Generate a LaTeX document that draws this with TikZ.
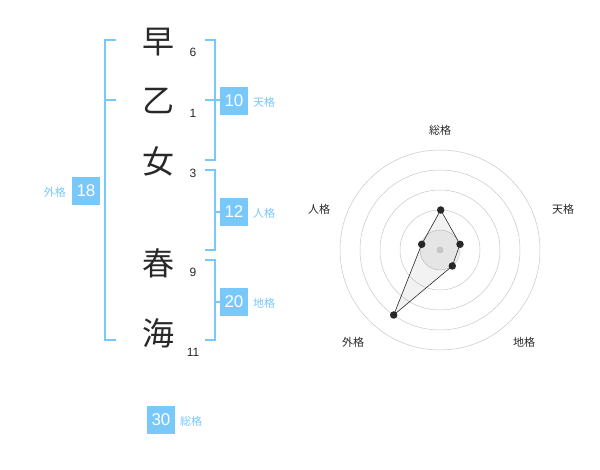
\documentclass[tikz,border=0pt]{standalone}
\usepackage{fontspec}
\setmainfont{Liberation Sans}
\newfontfamily\cjk{Noto Sans CJK JP}
\definecolor{blu}{RGB}{120,200,250}
\definecolor{ink}{RGB}{40,40,40}
\begin{document}
\begin{tikzpicture}[x=1pt,y=-1pt,
  kan/.style={font=\cjk\fontsize{32}{32}\selectfont,text=ink,inner sep=0},
  num/.style={font=\fontsize{12}{12}\selectfont,text=ink,inner sep=0},
  brk/.style={draw=blu,line width=1.5pt},
  box/.style={fill=blu,text=white,font=\fontsize{17}{17}\selectfont,minimum width=28pt,minimum height=28pt,inner sep=0},
  lab/.style={text=blu,font=\cjk\fontsize{11}{11}\selectfont,inner sep=0,anchor=west},
  rl/.style={text=ink,font=\cjk\fontsize{11}{11}\selectfont,inner sep=0},
  ring/.style={draw=black!22,line width=0.5pt},
  dot/.style={circle,fill=ink,inner sep=0,minimum size=7.5pt}]
\useasboundingbox (0,0) rectangle (600,470);
% kanji
\node[kan] (k1) at (158,42) {早};
\node[kan] (k2) at (158,101) {乙};
\node[kan] (k3) at (158,161) {女};
\node[kan] (k4) at (158,263) {春};
\node[kan] (k5) at (158,333) {海};
\node[num] (n1) at (193,52) {6};
\node[num] (n2) at (193,113) {1};
\node[num] (n3) at (193,173) {3};
\node[num] (n4) at (193,272) {9};
\node[num] (n5) at (193,352) {11};
% brackets
\draw[brk] (116,40) -- (105,40) -- (105,340) -- (116,340);
\draw[brk] (105,100) -- (116,100);
\draw[brk] (205,40) -- (215,40) -- (215,160) -- (205,160);
\draw[brk] (205,100) -- (220,100);
\draw[brk] (205,170) -- (215,170) -- (215,250) -- (205,250);
\draw[brk] (215,212) -- (220,212);
\draw[brk] (205,260) -- (215,260) -- (215,340) -- (205,340);
\draw[brk] (215,302) -- (220,302);
% boxes
\node[box] (b1) at (234,101) {10};
\node[lab] (l1) at (253,102) {天格};
\node[box] (b2) at (234,212) {12};
\node[lab] (l2) at (253,213) {人格};
\node[box] (b3) at (234,302) {20};
\node[lab] (l3) at (253,303) {地格};
\node[box] (b4) at (86,191) {18};
\node[lab,anchor=east] (l4) at (66,192) {外格};
\node[box] (b5) at (161,420) {30};
\node[lab] (l5) at (180,421) {総格};
% radar
\coordinate (c) at (440,250);
\fill[black!5] (c) circle (20);
\foreach \r in {20,40,60,80,100} \draw[ring] (c) circle (\r);
\fill[black!18] (c) circle (3.5);
\node[dot] (p1) at (440.7,210) {};
\node[dot] (p2) at (460,244.3) {};
\node[dot] (p3) at (452.3,266) {};
\node[dot] (p4) at (393.7,315) {};
\node[dot] (p5) at (421.7,244.3) {};
\fill[black,opacity=0.05] (p1.center) -- (p2.center) -- (p3.center) -- (p4.center) -- (p5.center) -- cycle;
\draw[ink,line width=0.6pt] (p1.center) -- (p2.center) -- (p3.center) -- (p4.center) -- (p5.center) -- cycle;
\node[rl] (r1) at (440,130) {総格};
\node[rl] (r2) at (563,209) {天格};
\node[rl] (r3) at (524,342) {地格};
\node[rl] (r4) at (353,342) {外格};
\node[rl] (r5) at (319,209) {人格};
\end{tikzpicture}
\end{document}
